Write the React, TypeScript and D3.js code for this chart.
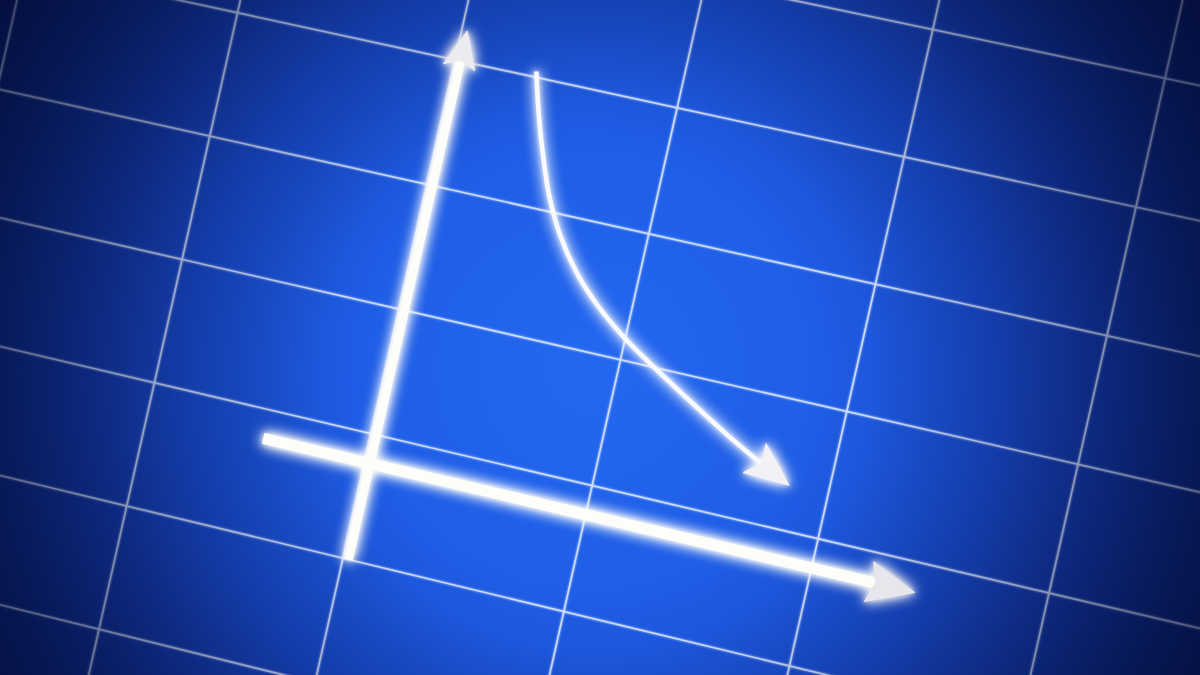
import React from "react";
import * as d3 from "d3";

const W = 1200;
const H = 675;

// Paper grid (cell indices)
const gridColumns = [-1, 0, 1, 2, 3, 4, 5, 6];
const gridRows = [-1, 0, 1, 2, 3, 4, 5, 6, 7, 8];

// Perspective calibration: paper (col,row) -> screen
const calibPaper: [number, number][] = [[1, 2], [5, 2], [1, 6], [5, 5]];
const calibScreen: [number, number][] = [[237.5, 12.8], [1136, 207], [126.7, 506], [1049, 593]];

// Chart origin on the paper
const originCol = 2.025;
const originRow = 5.23;

// Axes extents (in grid cells)
const xAxisExtent = [-0.49, 2.425];
const yAxisExtent = [-0.77, 3.47];

// Decreasing curve (x, y in grid cells); last point is the arrow tip
const curveX = [0.338, 0.384, 0.44, 0.513, 0.599, 0.704, 0.825, 0.968, 1.14, 1.359, 1.528, 1.653, 1.804];
const curveY = [3.275, 2.987, 2.686, 2.352, 2.067, 1.815, 1.602, 1.406, 1.215, 0.988, 0.82, 0.706, 0.578];

function solveHomography(src: [number, number][], dst: [number, number][]) {
  const A: number[][] = [];
  const b: number[] = [];
  for (let k = 0; k < 4; k++) {
    const [u, v] = src[k];
    const [x, y] = dst[k];
    A.push([u, v, 1, 0, 0, 0, -u * x, -v * x]);
    b.push(x);
    A.push([0, 0, 0, u, v, 1, -u * y, -v * y]);
    b.push(y);
  }
  const n = 8;
  for (let i = 0; i < n; i++) {
    let p = i;
    for (let r = i + 1; r < n; r++) if (Math.abs(A[r][i]) > Math.abs(A[p][i])) p = r;
    [A[i], A[p]] = [A[p], A[i]];
    [b[i], b[p]] = [b[p], b[i]];
    for (let r = i + 1; r < n; r++) {
      const f = A[r][i] / A[i][i];
      for (let c = i; c < n; c++) A[r][c] -= f * A[i][c];
      b[r] -= f * b[i];
    }
  }
  const h = new Array(n).fill(0);
  for (let i = n - 1; i >= 0; i--) {
    let s = b[i];
    for (let c = i + 1; c < n; c++) s -= A[i][c] * h[c];
    h[i] = s / A[i][i];
  }
  return h;
}

const Hm = solveHomography(calibPaper, calibScreen);
const project = (u: number, v: number): [number, number] => {
  const w = Hm[6] * u + Hm[7] * v + 1;
  return [(Hm[0] * u + Hm[1] * v + Hm[2]) / w, (Hm[3] * u + Hm[4] * v + Hm[5]) / w];
};

// chart scales: data cells -> paper
const xScale = d3.scaleLinear().domain([0, 1]).range([originCol, originCol + 1]);
const yScale = d3.scaleLinear().domain([0, 1]).range([originRow, originRow - 1]);
const toScreen = (x: number, y: number) => project(xScale(x), yScale(y));

function arrow(tip: [number, number], from: [number, number], len: number, half: number, notch: number) {
  const dx = tip[0] - from[0];
  const dy = tip[1] - from[1];
  const d = Math.hypot(dx, dy);
  const ux = dx / d, uy = dy / d;
  const px = -uy, py = ux;
  const bx = tip[0] - ux * len, by = tip[1] - uy * len;
  const b1: [number, number] = [bx + px * half, by + py * half];
  const b2: [number, number] = [bx - px * half, by - py * half];
  const n: [number, number] = [tip[0] - ux * len * notch, tip[1] - uy * len * notch];
  return { poly: [tip, b1, n, b2].map((p) => p.join(",")).join(" "), notch: n };
}

export default function App() {
  const lineGen = d3.line<[number, number]>().x((d) => d[0]).y((d) => d[1]);
  const curveGen = d3
    .line<[number, number]>()
    .x((d) => d[0])
    .y((d) => d[1])
    .curve(d3.curveCatmullRom.alpha(0.5));

  const xStart = toScreen(xAxisExtent[0], 0);
  const xTip = toScreen(xAxisExtent[1], 0);
  const xArrow = arrow(xTip, xStart, 47, 20.5, 0.86);
  const yStart = toScreen(0, yAxisExtent[0]);
  const yTip = toScreen(0, yAxisExtent[1]);
  const yArrow = arrow(yTip, yStart, 37, 16, 0.8);
  const pts = curveX.map((x, i) => toScreen(x, curveY[i]));
  const cTip = pts[pts.length - 1];
  const cPrev = pts[pts.length - 2];
  const cArrow = arrow(cTip, cPrev, 44, 18.5, 0.8);
  const curvePts = [...pts.slice(0, -1), cArrow.notch];

  return (
    <svg
      width={W}
      height={H}
      viewBox={`0 0 ${W} ${H}`}
      style={{ position: "absolute", left: 0, top: 0, display: "block" }}
    >
      <defs>
        <radialGradient id="bg" gradientUnits="userSpaceOnUse" cx={590} cy={370} r={740}>
          <stop offset="0" stopColor="#2468f0" />
          <stop offset="0.3" stopColor="#1f5ee6" />
          <stop offset="0.55" stopColor="#1848c6" />
          <stop offset="0.78" stopColor="#0f2e90" />
          <stop offset="1" stopColor="#071652" />
        </radialGradient>
        <radialGradient id="vig" gradientUnits="userSpaceOnUse" cx={600} cy={380} r={720}>
          <stop offset="0.38" stopColor="#020a30" stopOpacity={0} />
          <stop offset="0.65" stopColor="#020a30" stopOpacity={0.28} />
          <stop offset="0.85" stopColor="#020a30" stopOpacity={0.55} />
          <stop offset="1" stopColor="#020a30" stopOpacity={0.72} />
        </radialGradient>
        <filter id="glow" filterUnits="userSpaceOnUse" x={0} y={0} width={W} height={H}>
          <feGaussianBlur in="SourceGraphic" stdDeviation={7} result="b1" />
          <feGaussianBlur in="SourceGraphic" stdDeviation={2.5} result="b2" />
          <feMerge>
            <feMergeNode in="b1" />
            <feMergeNode in="b1" />
            <feMergeNode in="b2" />
            <feMergeNode in="SourceGraphic" />
          </feMerge>
        </filter>
        <filter id="softglow" filterUnits="userSpaceOnUse" x={0} y={0} width={W} height={H}>
          <feGaussianBlur in="SourceGraphic" stdDeviation={1.2} result="b" />
          <feMerge>
            <feMergeNode in="b" />
            <feMergeNode in="SourceGraphic" />
          </feMerge>
        </filter>
      </defs>
      <rect x={0} y={0} width={W} height={H} fill="url(#bg)" />
      <g filter="url(#softglow)" stroke="#dce8ff" strokeWidth={1.6} fill="none" opacity={0.92}>
        {gridColumns.map((c) => (
          <path key={"c" + c} d={lineGen([project(c, -3), project(c, 10)]) || ""} />
        ))}
        {gridRows.map((r) => (
          <path key={"r" + r} d={lineGen([project(-3, r), project(9, r)]) || ""} />
        ))}
      </g>
      <rect x={0} y={0} width={W} height={H} fill="url(#vig)" />
      <g filter="url(#glow)">
        <path d={lineGen([yStart, yArrow.notch]) || ""} stroke="#fdfdfa" strokeWidth={9} fill="none" />
        <polygon points={yArrow.poly} fill="#ececf0" stroke="#ececf0" strokeWidth={1} strokeLinejoin="round" />
        <path d={lineGen([xStart, xArrow.notch]) || ""} stroke="#fdfdfa" strokeWidth={11} fill="none" />
        <polygon points={xArrow.poly} fill="#e6e6ec" stroke="#e6e6ec" strokeWidth={1} strokeLinejoin="round" />
        <path d={curveGen(curvePts) || ""} stroke="#f8faff" strokeWidth={4.5} fill="none" />
        <polygon points={cArrow.poly} fill="#f2f2f6" stroke="#f2f2f6" strokeWidth={1} strokeLinejoin="round" />
      </g>
    </svg>
  );
}
